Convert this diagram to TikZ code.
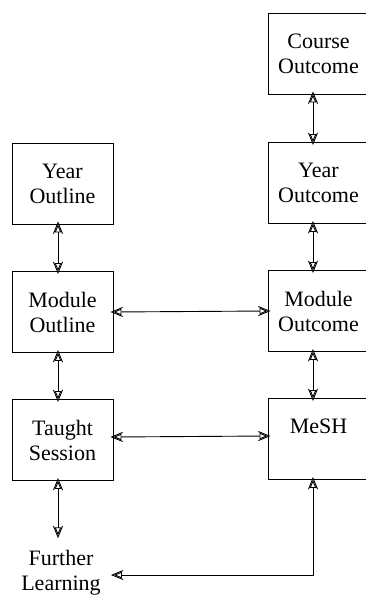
\documentclass[tikz,border=0pt]{standalone}
\usepackage{fontspec}
\setmainfont{Liberation Serif}
\usetikzlibrary{arrows.meta}
\begin{document}
\begin{tikzpicture}[x=1pt,y=-1pt,
  box/.style={draw, line width=0.9pt, minimum width=101pt, minimum height=81pt,
    align=center, inner sep=0pt, font=\fontsize{22}{25}\selectfont},
  plain/.style={align=center, inner sep=13pt, font=\fontsize{22}{25}\selectfont},
  % barbed head with a cross bar, drawn as a barb over an open triangle
  tip/.tip={Straight Barb[length=11pt,width=9pt,sep=-11pt]Triangle[open,length=8pt,width=6.5pt]},
  link/.style={line width=0.9pt, tip-tip}]
\useasboundingbox (0,0) rectangle (366,596);
\clip (0,0) rectangle (366,596);
% arrow columns
\coordinate (lc) at (58,0);
\coordinate (rc) at (313,0);
% left column
\node[box] (yo) at (62.5,183.5) {Year\\Outline};
\node[box] (mo) at (62.5,312) {Module\\Outline};
\node[box] (ts) at (62.5,440) {Taught\\Session};
\node[plain] (fl) at (61,573) {Further\\Learning};
% right column
\node[box] (co) at (318.5,53.5) {Course\\Outcome};
\node[box] (yc) at (318.5,183) {Year\\Outcome};
\node[box] (mc) at (318.5,311) {Module\\Outcome};
\node[box] (me) at (318.5,439) {MeSH\\\mbox{}};
% vertical links
\draw[link] (yo.south -| lc) -- (mo.north -| lc);
\draw[link] (mo.south -| lc) -- (ts.north -| lc);
\draw[link] (ts.south -| lc) -- ([yshift=2pt]fl.north -| lc);
\draw[link] (co.south -| rc) -- (yc.north -| rc);
\draw[link] (yc.south -| rc) -- (mc.north -| rc);
\draw[link] (mc.south -| rc) -- (me.north -| rc);
% horizontal links
\draw[link] (mo.east) -- (mc.west);
\draw[link] ([yshift=3pt]ts.east) -- ([yshift=3pt]me.west);
\draw[link] ([yshift=-2pt]fl.east) -| (me.south -| rc);
\end{tikzpicture}
\end{document}
